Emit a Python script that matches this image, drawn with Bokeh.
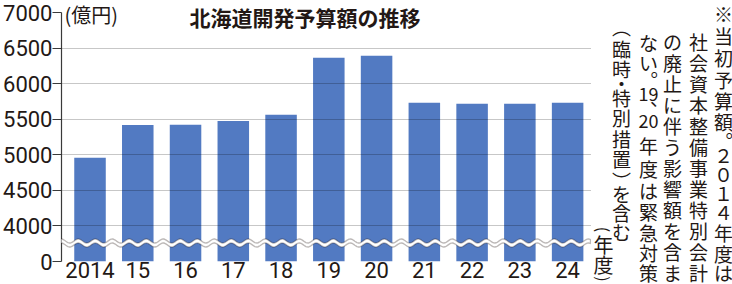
import math
import numpy as np
from bokeh.plotting import figure
from bokeh.layouts import row
from bokeh.models import Range1d, FixedTicker, Label, PolyAnnotation
from bokeh.embed import file_html
from bokeh.resources import INLINE

# ---- data ----
years = ["2014", "15", "16", "17", "18", "19", "20", "21", "22", "23", "24"]
budget = [4958, 5420, 5422, 5476, 5561, 6365, 6393, 5731, 5717, 5717, 5730]
y_tick_values = [3500, 4000, 4500, 5000, 5500, 6000, 6500, 7000]
y_tick_labels = ["0", "4000", "4500", "5000", "5500", "6000", "6500", "7000"]
grid_values = [4000, 4500, 5000, 5500, 6000, 6500]

title = "北海道開発予算額の推移"
unit = "(億円)"
year_unit = ["(", "年", "度", ")"]

# ---- layout constants (pixels) ----
W, H = 732, 284
FL, FR = 59, 589          # frame left/right
FT, FB = 0, 261           # frame top/bottom
Y_TOP_PX = 12             # pixel row of 7000
XS, XE = -0.597, 10.5
YS, YMAX = 3500, 7000
PX_PER_UNIT = (FB - Y_TOP_PX) / (YMAX - YS)
YE = YS + (FB - FT) / PX_PER_UNIT
INK = "#231815"
BAR = "#527ac2"
JP = "Noto Sans CJK JP"
NUM = "Roboto"


def dx(px):
    return XS + (px - FL) / (FR - FL) * (XE - XS)


def dy(py):
    return YS + (FB - py) / PX_PER_UNIT


p = figure(title=None, frame_width=FR - FL, frame_height=FB - FT,
           x_range=Range1d(XS, XE), y_range=Range1d(YS, YE),
           output_backend="svg", toolbar_location=None,
           min_border_left=FL, min_border_right=0,
           min_border_top=FT, min_border_bottom=H - FB)
p.outline_line_color = None
p.background_fill_color = "white"
p.border_fill_color = "white"

xidx = list(range(len(years)))
p.vbar(x=xidx, top=budget, bottom=YS, width=0.66, fill_color=BAR, line_color=None)

# grid drawn over bars
p.xgrid.visible = False
p.ygrid.ticker = FixedTicker(ticks=grid_values)
p.ygrid.grid_line_color = "#000000"
p.ygrid.grid_line_alpha = 0.22
p.ygrid.grid_line_width = 1.2
p.ygrid.level = "guide"

# x axis
xa = p.xaxis[0]
xa.ticker = FixedTicker(ticks=xidx)
xa.major_label_overrides = {i: y for i, y in zip(xidx, years)}
xa.axis_line_color = None
xa.major_tick_line_color = None
xa.minor_tick_line_color = None
xa.major_tick_out = 0
xa.major_tick_in = 0
xa.major_label_standoff = 0
xa.major_label_text_font = NUM
xa.major_label_text_font_size = "22px"
xa.major_label_text_color = INK

# y axis
ya = p.yaxis[0]
ya.bounds = (YS, YMAX)
ya.ticker = FixedTicker(ticks=y_tick_values)
ya.major_label_overrides = {v: l for v, l in zip(y_tick_values, y_tick_labels)}
ya.axis_line_color = "#3a3a3a"
ya.axis_line_width = 1.2
ya.major_tick_line_color = "#3a3a3a"
ya.major_tick_line_width = 1.2
ya.major_tick_out = 9
ya.major_tick_in = 0
ya.minor_tick_line_color = None
ya.major_label_standoff = 0
ya.major_label_text_font = NUM
ya.major_label_text_font_size = "22px"
ya.major_label_text_color = INK

# axis break (wavy white band)
pxs = np.linspace(46, 588, 500)
wave = 2.0 * np.sin(2 * np.pi * (pxs - 46) / 17.0)
upper = 242.5 - 2.0 + wave
lower = 242.5 + 2.0 + wave
poly_x = [dx(v) for v in pxs] + [dx(v) for v in pxs[::-1]]
poly_y = [dy(v) for v in upper] + [dy(v) for v in lower[::-1]]
p.add_layout(PolyAnnotation(xs=poly_x, ys=poly_y, fill_color="white", fill_alpha=1.0,
                            line_color=INK, line_width=1.4))


def lab(fig, x, y, text, size, bold=False, align="center", baseline="middle", font=JP, angle=0.0):
    fig.add_layout(Label(x=x, y=y, text=text, text_font=font,
                         text_font_size=f"{size}px", text_color=INK,
                         text_font_style="bold" if bold else "normal",
                         text_align=align, text_baseline=baseline, angle=angle))


lab(p, dx(187), dy(16.5), title, 21, bold=True, align="left")
lab(p, dx(62), dy(13.5), unit, 20, align="left")

# ---- right-hand note panel (pixel coordinates) ----
q = figure(title=None, frame_width=W - FR, frame_height=H,
           x_range=Range1d(FR, W), y_range=Range1d(H, 0),
           x_axis_type=None, y_axis_type=None,
           output_backend="svg", toolbar_location=None,
           min_border_left=0, min_border_right=0, min_border_top=0, min_border_bottom=0)
q.grid.visible = False
q.outline_line_color = None
q.background_fill_color = "white"
q.border_fill_color = "white"

note_cols = [
    (721, [("※", 13), ("当", 35), ("初", 57), ("予", 79), ("算", 100), ("額", 121), ("︒", 140),
           ("２", 154), ("０", 173), ("１", 192), ("４", 211), ("年", 232), ("度", 253), ("は", 272)]),
    (696, [(c, 41 + 21 * i) for i, c in enumerate("社会資本整備事業特別会計")]),
    (670, [(c, 41 + 21 * i) for i, c in enumerate("の廃止に伴う影響額を含ま")]),
    (646, [("な", 42), ("い", 62), ("︒", 79), ("19", 93), ("20", 120), ("年", 145),
           ("度", 168), ("は", 190), ("緊", 211), ("急", 232), ("対", 252), ("策", 272)]),
    (619, [("︵", 26), ("臨", 48), ("時", 68), ("・", 83), ("特", 97), ("別", 117), ("措", 138),
           ("置", 158), ("︶", 180), ("を", 193), ("含", 212), ("む", 231)]),
]
for cx, chars in note_cols:
    for ch, cy in chars:
        if ch.isascii():
            lab(q, cx, cy, ch, 18, font="'Liberation Sans Narrow', 'Noto Sans CJK JP'")
        elif cy > 270:
            lab(q, cx, cy - 0.5, ch, 19)
        else:
            lab(q, cx, cy, ch, 19)
# ideographic comma placed in the upper-right of its vertical cell
lab(q, 657, 97, "、", 19)

# (年度) written vertically: parentheses turned a quarter turn clockwise
for ch, cy in zip(year_unit, [229, 244, 264, 278.5]):
    if ch in "()":
        lab(q, 601, cy, ch, 16, angle=-math.pi / 2)
    else:
        lab(q, 601, cy, ch, 20)

layout = row(p, q, spacing=0)
open("out.html", "w").write(file_html(layout, INLINE))
